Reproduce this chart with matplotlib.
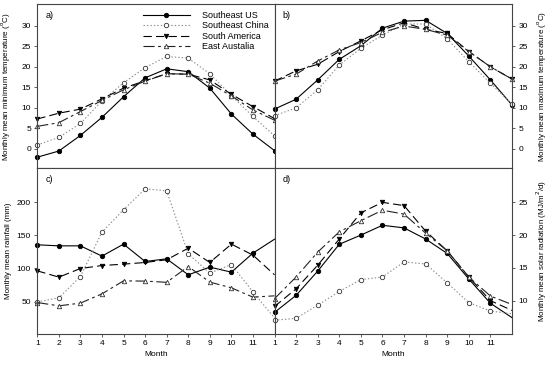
import matplotlib
matplotlib.use('Agg')
import matplotlib.pyplot as plt

plt.rcParams['font.family'] = ['Liberation Sans', 'DejaVu Sans']
plt.rcParams['font.size'] = 6
plt.rcParams['lines.scale_dashes'] = False

months = list(range(1, 13))
series = ['Southeast US', 'Southeast China', 'South America', 'East Austalia']

# a) monthly mean minimum temperature (C)
tmin_us = [-2.0, -0.5, 3.3, 7.7, 12.7, 17.3, 19.5, 18.8, 14.8, 8.5, 3.6, -0.4]
tmin_china = [1.0, 2.8, 6.2, 11.7, 16.1, 19.8, 22.5, 22.1, 18.3, 13.0, 7.9, 3.2]
tmin_sa = [7.3, 8.7, 9.7, 12.2, 14.8, 16.6, 18.3, 18.2, 16.8, 13.3, 10.3, 7.4]
tmin_ea = [5.5, 6.4, 9.1, 11.8, 14.4, 16.5, 18.3, 18.2, 16.0, 12.9, 9.5, 7.0]

# b) monthly mean maximum temperature (C)
tmax_us = [9.7, 12.1, 16.8, 21.8, 25.1, 29.4, 31.1, 31.3, 28.1, 22.6, 16.8, 10.7]
tmax_china = [8.1, 10.0, 14.4, 20.4, 24.5, 27.7, 30.4, 30.4, 26.8, 21.2, 16.0, 10.9]
tmax_sa = [16.5, 19.0, 20.6, 23.7, 26.3, 29.0, 30.7, 29.1, 28.1, 23.7, 20.0, 17.0]
tmax_ea = [16.5, 18.2, 21.4, 24.1, 25.9, 28.4, 29.9, 29.1, 27.7, 23.7, 20.0, 17.0]

# c) monthly mean rainfall (mm)
rain_us = [135.6, 134, 134, 118.5, 136.6, 110.4, 114.4, 90.3, 101.9, 94.3, 123, 144]
rain_china = [49.5, 55.6, 87.7, 154.7, 188.4, 220, 217, 122, 92.8, 105.8, 64.6, 25]
rain_sa = [96.3, 86.8, 99.8, 104.3, 106.4, 108.9, 113, 130.5, 108.9, 136.6, 120, 90.3]
rain_ea = [48.5, 43.5, 47.6, 61.6, 81.2, 80.8, 79, 102.8, 79.3, 70.7, 56.6, 58.6]

# d) monthly mean solar radiation (MJ/m2/d)
rad_us = [8.2, 10.8, 14.5, 18.6, 20.0, 21.5, 21.1, 19.4, 17.2, 13.3, 9.6, 7.4]
rad_china = [7.0, 7.3, 9.3, 11.4, 13.2, 13.6, 15.9, 15.6, 12.7, 9.7, 8.4, 8.0]
rad_sa = [9.1, 11.8, 15.4, 19.4, 23.4, 25.0, 24.5, 20.6, 17.6, 13.6, 10.0, 8.5]
rad_ea = [10.3, 13.6, 17.4, 20.5, 22.2, 23.8, 23.2, 20.3, 17.6, 13.6, 10.7, 9.4]

styles = [
    dict(color='black', linestyle='-', marker='o', mfc='black', mec='black'),
    dict(color='#8c8c8c', linestyle=(0, (1, 1.5)), marker='o', mfc='white', mec='#333333'),
    dict(color='black', linestyle=(0, (6, 3)), marker='v', mfc='black', mec='black'),
    dict(color='#222222', linestyle=(0, (8, 2.5, 2, 2.5)), marker='^', mfc='white', mec='#333333'),
]

fig = plt.figure(figsize=(5.5, 3.66), dpi=100)
L, M, R = 0.0678, 0.4991, 0.9309
B, H, T = 0.0874, 0.5402, 0.9883
ax_a = fig.add_axes([L, H, M - L, T - H])
ax_b = fig.add_axes([M, H, R - M, T - H])
ax_c = fig.add_axes([L, B, M - L, H - B])
ax_d = fig.add_axes([M, B, R - M, H - B])


def draw(ax, data, n_marks):
    handles = []
    for vals, st, name in zip(data, styles, series):
        h, = ax.plot(months, vals, lw=0.8, ms=3.2, mew=0.6, clip_on=False,
                     markevery=list(range(n_marks)), label=name, **st)
        handles.append(h)
    ax.set_xlim(1, 12)
    for s in ax.spines.values():
        s.set_linewidth(0.8)
        s.set_color('#444444')
    ax.tick_params(length=2.5, width=0.6, pad=2, color='#444444')
    return handles


hs = draw(ax_a, [tmin_us, tmin_china, tmin_sa, tmin_ea], 12)
draw(ax_b, [tmax_us, tmax_china, tmax_sa, tmax_ea], 12)
draw(ax_c, [rain_us, rain_china, rain_sa, rain_ea], 11)
draw(ax_d, [rad_us, rad_china, rad_sa, rad_ea], 11)

for ax in (ax_a, ax_b):
    ax.set_ylim(-4.7, 35.2)
    ax.set_yticks([0, 5, 10, 15, 20, 25, 30])
    ax.set_xticks([])
ax_c.set_ylim(1, 251)
ax_c.set_yticks([50, 100, 150, 200])
ax_d.set_ylim(4.9, 30.2)
ax_d.set_yticks([10, 15, 20, 25])
for ax in (ax_c, ax_d):
    ax.set_xticks(range(1, 12))
    ax.set_xlabel('Month', labelpad=3)

for ax in (ax_b, ax_d):
    ax.yaxis.tick_right()
    ax.yaxis.set_label_position('right')

ax_a.set_ylabel('Monthly mean minimum temperature ($^{\\rm o}$C)', fontsize=5.8)
ax_b.set_ylabel('Monthly mean maximum temperature ($^{\\rm o}$C)', fontsize=5.8)
ax_c.set_ylabel('Monthly mean rainfall (mm)', fontsize=5.8)
ax_d.set_ylabel('Monthly mean solar radiation (MJ/m$^2$/d)', fontsize=5.8)
ax_a.yaxis.set_label_coords(-0.105, 0.5)
ax_c.yaxis.set_label_coords(-0.105, 0.5)
ax_b.yaxis.set_label_coords(1.095, 0.5)
ax_d.yaxis.set_label_coords(1.095, 0.5)

for ax, lab in zip((ax_a, ax_b, ax_c, ax_d), ('a)', 'b)', 'c)', 'd)')):
    ax.text(0.035, 0.96, lab, transform=ax.transAxes, ha='left', va='top', fontsize=6.5)

ax_a.legend(handles=hs, loc='upper left', bbox_to_anchor=(143 / 550, 1 - 11 / 366),
            bbox_transform=fig.transFigure, frameon=False, fontsize=6.5,
            handlelength=5.2, handletextpad=1.3, labelspacing=0.15,
            borderpad=0, borderaxespad=0)

fig.savefig('out.png', dpi=100)
